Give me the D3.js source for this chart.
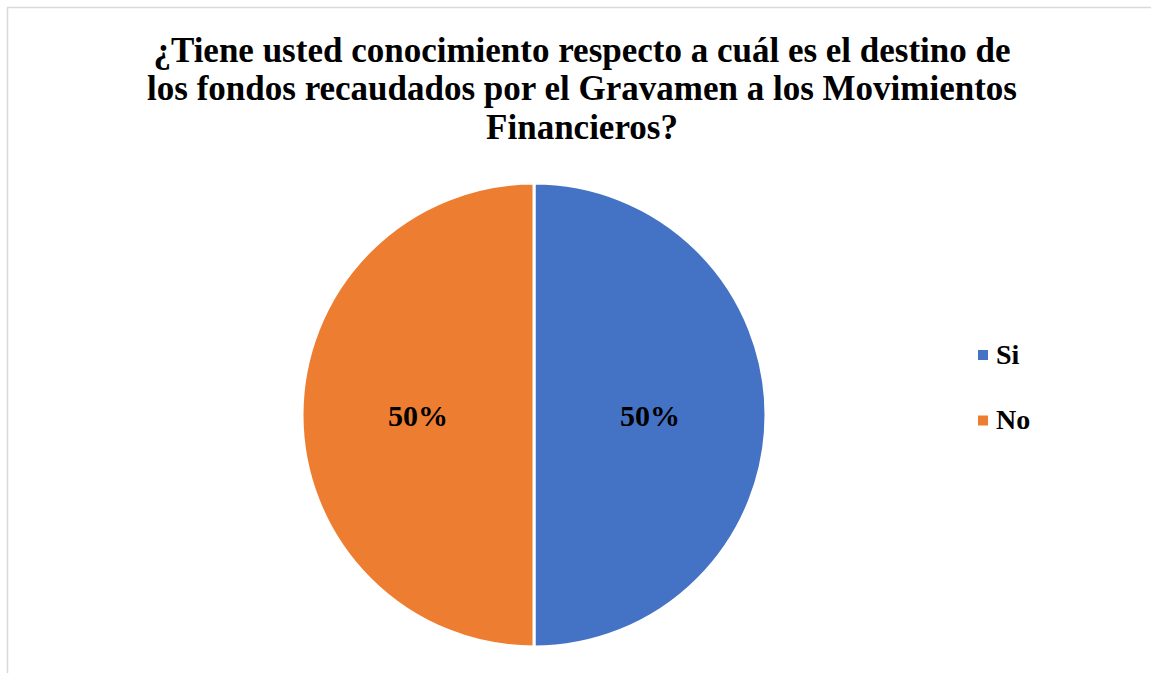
<!DOCTYPE html>
<html><head><meta charset="utf-8">
<script src="https://cdn.jsdelivr.net/npm/d3@7"></script>
<style>body{margin:0;background:#fff}svg{display:block}</style>
</head><body>
<script>
const titleLines = ["¿Tiene usted conocimiento respecto a cuál es el destino de","los fondos recaudados por el Gravamen a los Movimientos","Financieros?"];
const categories = ["Si","No"];
const values = [50, 50];
const colors = ["#4472C4","#ED7D31"];

const W = 1151, H = 673;
const svg = d3.select("body").append("svg").attr("width", W).attr("height", H);
svg.append("rect").attr("x",7.5).attr("y",7.5).attr("width",W+10).attr("height",H+10)
  .attr("fill","#fff").attr("stroke","#d9d9d9").attr("stroke-width",1.5);

const title = svg.append("text").attr("text-anchor","middle")
  .attr("font-family","'Liberation Serif','Times New Roman',serif").attr("font-weight","bold")
  .attr("font-size",35).attr("fill","#000");
titleLines.forEach((t,i)=>title.append("tspan").attr("x",582).attr("y",61.5+i*38.7).text(t));

const cx = 534, cy = 415, r = 232;
const pie = d3.pie().sort(null).value(d=>d)(values);
const arc = d3.arc().innerRadius(0).outerRadius(r);
const g = svg.append("g").attr("transform",`translate(${cx},${cy})`);
g.selectAll("path").data(pie).join("path")
  .attr("d",arc).attr("fill",(d,i)=>colors[i]).attr("stroke","#fff").attr("stroke-width",3);
const labelArc = d3.arc().innerRadius(r*0.5).outerRadius(r*0.5);
g.selectAll("text").data(pie).join("text")
  .attr("transform",d=>`translate(${labelArc.centroid(d)})`)
  .attr("text-anchor","middle").attr("dy","0.35em")
  .attr("font-family","'Liberation Serif','Times New Roman',serif").attr("font-weight","bold")
  .attr("font-size",30).text(d=>d3.format(".0%")(d.value/d3.sum(values)));

const leg = svg.append("g");
categories.forEach((c,i)=>{
  const y = 355 + i*65.5;
  leg.append("rect").attr("x",978).attr("y",y-5).attr("width",10).attr("height",10).attr("fill",colors[i]);
  leg.append("text").attr("x",996).attr("y",y+8.5)
    .attr("font-family","'Liberation Serif','Times New Roman',serif").attr("font-weight","bold")
    .attr("font-size",28).text(c);
});
</script>
</body></html>
